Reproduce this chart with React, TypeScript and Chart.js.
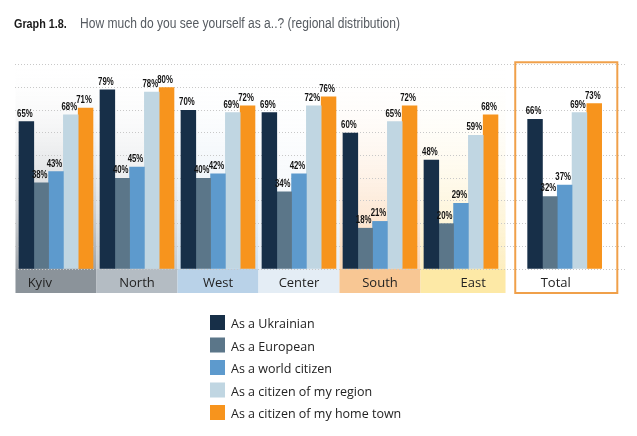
import React, { useEffect, useRef } from "react";
import { Chart, registerables } from "chart.js";

Chart.register(...registerables);

const categories = ["Kyiv", "North", "West", "Center", "South", "East", "Total"];
const seriesNames = [
  "As a Ukrainian",
  "As a European",
  "As a world citizen",
  "As a citizen of my region",
  "As a citizen of my home town",
];
const ukrainian = [65, 79, 70, 69, 60, 48, 66];
const european = [38, 40, 40, 34, 18, 20, 32];
const worldCitizen = [43, 45, 42, 42, 21, 29, 37];
const region = [68, 78, 69, 72, 65, 59, 69];
const homeTown = [71, 80, 72, 76, 72, 68, 73];
const yTicks = [0, 10, 20, 30, 40, 50, 60, 70, 80, 90];
const titleBold = "Graph 1.8.";
const titleText = "How much do you see yourself as a..? (regional distribution)";

const seriesValues = [ukrainian, european, worldCitizen, region, homeTown];
const barColors = ["#172f48", "#5b7689", "#5d9acd", "#c0d6e2", "#f7941d"];

// layout: group centres on a linear x scale (Total set apart)
const groupX = categories.map((_, i) => (i === 6 ? 6.28 : i));
const bandRanges: [number, number][] = [
  [-0.5, 0.5], [0.5, 1.5], [1.5, 2.5], [2.5, 3.5], [3.5, 4.5], [4.5, 5.55],
];
const bandColors = ["#8b939a", "#b4bcc3", "#b9d2e8", "#e4edf5", "#f8c794", "#fde9a6"];
const bgColors = ["#9ea4aa", "#c3c9ce", "#cddfee", "#e6eef6", "#fbd6b3", "#fdeec0"];
const labelOffsets = [-0.2, 0, 0, 0, 0, 0.15, -0.11];

function narrowText(ctx: any, text: string, x: number, y: number, align: string, sx: number) {
  const w = ctx.measureText(text).width * sx;
  let left = x;
  if (align === "center") left = x - w / 2;
  ctx.save();
  ctx.textAlign = "left";
  ctx.translate(left, y);
  ctx.scale(sx, 1);
  ctx.fillText(text, 0, 0);
  ctx.restore();
}

const decorPlugin = {
  id: "decor",
  beforeDraw(chart: any) {
    const { ctx, chartArea, scales } = chart;
    const x = scales.x;
    const top = chartArea.top;
    const bottom = chartArea.bottom;
    ctx.save();
    bandRanges.forEach((r, i) => {
      const x0 = x.getPixelForValue(r[0]);
      const x1 = x.getPixelForValue(r[1]);
      const g = ctx.createLinearGradient(0, top, 0, bottom);
      g.addColorStop(0, "rgba(255,255,255,0)");
      g.addColorStop(1, bgColors[i]);
      ctx.fillStyle = g;
      ctx.fillRect(x0, top, x1 - x0, bottom - top);
      ctx.fillStyle = bandColors[i];
      ctx.fillRect(x0, bottom, x1 - x0, 24);
    });
    ctx.restore();
  },
  afterDatasetsDraw(chart: any) {
    const { ctx, chartArea, scales } = chart;
    const x = scales.x;
    const y = scales.y;
    ctx.save();
    // value labels
    ctx.font = "bold 10px 'Liberation Sans', Arial, sans-serif";
    ctx.fillStyle = "#111";
    ctx.textBaseline = "alphabetic";
    chart.data.datasets.forEach((ds: any, di: number) => {
      const meta = chart.getDatasetMeta(di);
      meta.data.forEach((el: any, i: number) => {
        const v = ds.data[i].y;
        narrowText(ctx, v + "%", el.x - 1.5, el.y - 5, "center", 0.78);
      });
    });
    // category labels
    ctx.font = "13px 'Open Sans', sans-serif";
    ctx.fillStyle = "#222";
    ctx.textAlign = "center";
    categories.forEach((c, i) => {
      ctx.fillText(c, x.getPixelForValue(groupX[i] + labelOffsets[i]), chartArea.bottom + 18);
    });
    // total box
    const bx0 = x.getPixelForValue(5.67);
    const bx1 = x.getPixelForValue(6.93);
    const by0 = y.getPixelForValue(91.2);
    ctx.strokeStyle = "#f0a04a";
    ctx.lineWidth = 2;
    ctx.strokeRect(bx0, by0, bx1 - bx0, chartArea.bottom + 24 - by0);
    ctx.restore();
  },
  afterDraw(chart: any) {
    const { ctx } = chart;
    ctx.save();
    ctx.textBaseline = "alphabetic";
    ctx.font = "bold 13.5px 'Liberation Sans', Arial, sans-serif";
    ctx.fillStyle = "#1a1a1a";
    narrowText(ctx, titleBold, 14, 28, "left", 0.8);
    ctx.font = "14px 'Liberation Sans', Arial, sans-serif";
    ctx.fillStyle = "#555a60";
    const natural = ctx.measureText(titleText).width;
    narrowText(ctx, titleText, 80, 28, "left", 320 / natural);
    // legend
    ctx.font = "12.5px 'Open Sans', sans-serif";
    ctx.textAlign = "left";
    seriesNames.forEach((n, i) => {
      const ty = 315 + i * 22.5;
      ctx.fillStyle = barColors[i];
      ctx.fillRect(210, ty, 15, 15);
      ctx.fillStyle = "#222";
      ctx.fillText(n, 231, ty + 13);
    });
    ctx.restore();
  },
};

export default function App() {
  const ref = useRef<HTMLCanvasElement | null>(null);
  useEffect(() => {
    if (!ref.current) return;
    const chart = new Chart(ref.current, {
      type: "bar",
      data: {
        datasets: seriesValues.map((vals, si) => ({
          label: seriesNames[si],
          data: vals.map((v, i) => ({ x: groupX[i], y: v })),
          backgroundColor: barColors[si],
          borderWidth: 0,
          barThickness: 14.8,
        })),
      },
      options: {
        animation: false,
        responsive: true,
        maintainAspectRatio: false,
        layout: { padding: { left: 15, right: 12, top: 60, bottom: 167 } },
        plugins: { legend: { display: false }, tooltip: { enabled: false }, title: { display: false } },
        scales: {
          x: { type: "linear", min: -0.506, max: 7.025, offset: false, display: false },
          y: {
            min: 0,
            max: 92.2,
            afterBuildTicks: (axis: any) => {
              axis.ticks = yTicks.map((v) => ({ value: v }));
            },
            ticks: { display: false },
            grid: { color: "#c8c8c8", lineWidth: 1, drawTicks: false },
            border: { display: false, dash: [1, 2] },
          },
        },
      },
      plugins: [decorPlugin],
    });
    return () => chart.destroy();
  }, []);
  return (
    <div style={{ position: "fixed", left: 0, top: 0, width: 637, height: 436, background: "#fff" }}>
      <canvas ref={ref} />
    </div>
  );
}
